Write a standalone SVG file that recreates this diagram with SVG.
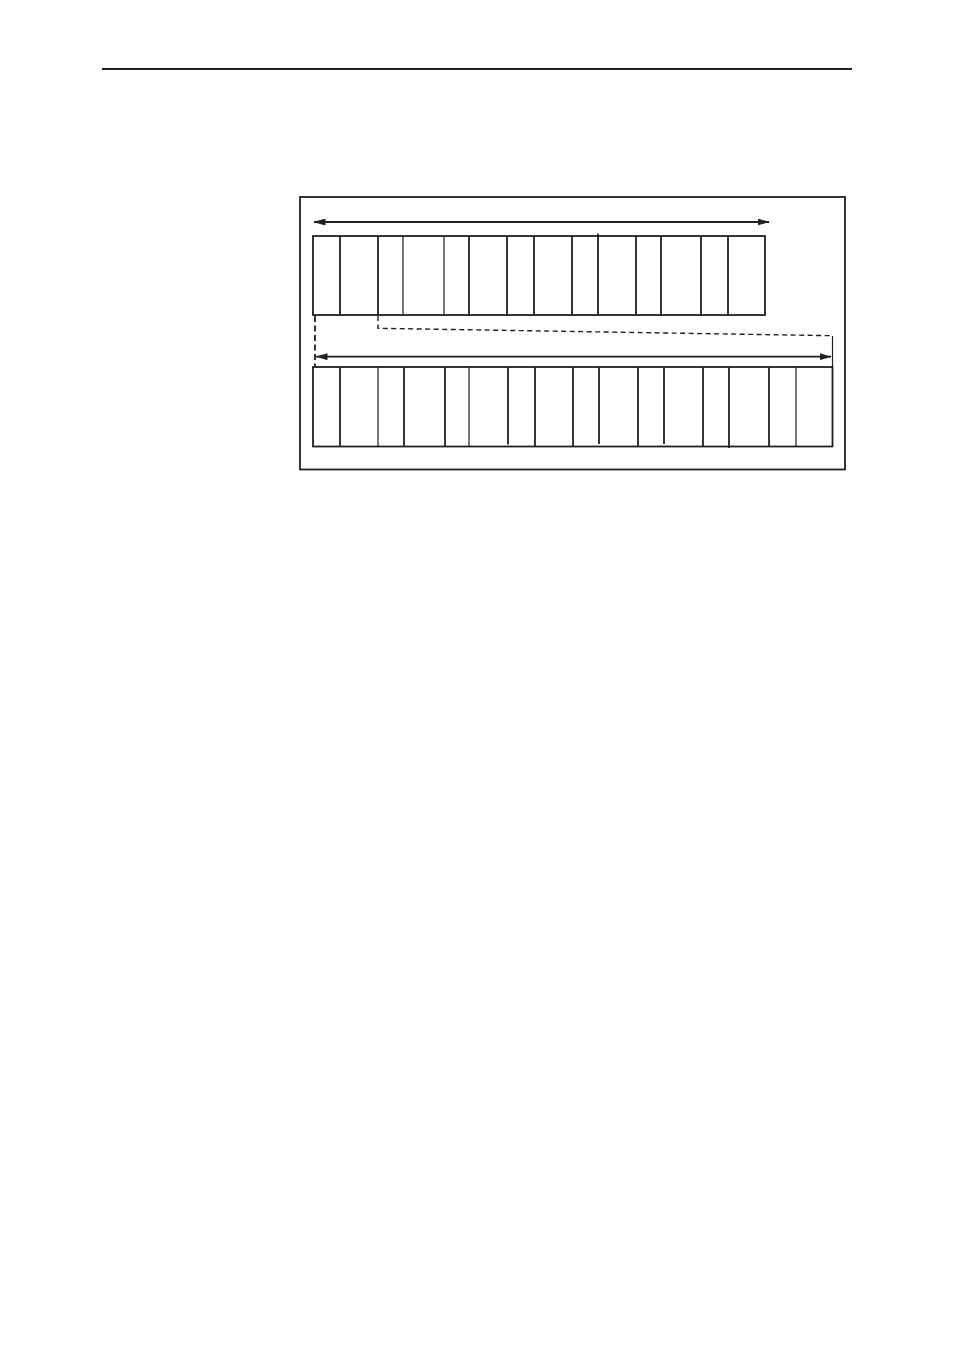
<svg xmlns="http://www.w3.org/2000/svg" width="954" height="1351" viewBox="0 0 954 1351">
<style>
.ln{stroke:#231f20;stroke-width:1.8;fill:none}
.th{stroke:#231f20;stroke-width:1.2;fill:none}
.ds{stroke:#231f20;stroke-width:1.4;fill:none;stroke-dasharray:5,3.5}
.dl{stroke:#231f20;stroke-width:1.8;fill:none;stroke-dasharray:6,3.5}
</style>
<defs>
<marker id="ah" viewBox="0 0 12 7" refX="11.5" refY="3.5" markerWidth="12" markerHeight="7" markerUnits="userSpaceOnUse" orient="auto-start-reverse">
<path d="M0,0 L12,3.5 L0,7 Z" fill="#231f20"/>
</marker>
</defs>
<rect width="954" height="1351" fill="#fff"/>
<line x1="102" y1="69" x2="852" y2="69" stroke="#231f20" stroke-width="2"/>
<g id="frame"><rect class="ln" x="300" y="197" width="545" height="272.5"/></g>
<g id="top-row">
<rect class="ln" x="313" y="236" width="452" height="79"/>
<path class="ln" d="M340,236V315M378,236V315M469,236V315M507,236V315M534,236V315M572,236V315M598,233.5V315M636,236V315M661,236V315M701,237V315M728,236V315"/>
<path class="th" d="M403,236V315M444,236V315"/>
</g>
<g id="bottom-row">
<rect class="ln" x="313" y="367" width="519.5" height="79.5"/>
<path class="ln" d="M340,367V446.5M404,367V446.5M445,367V446.5M508,367V444.5M535,367V446.5M573,367V446.5M599,367V444M638,367V446.5M664,367V444M703,367V446.5M729,367V448M769,367V446.5"/>
<path class="th" d="M378,367V446.5M469,367V446.5M796,367V446.5"/>
</g>
<g id="connectors">
<line class="ln" x1="314" y1="222" x2="769" y2="222" marker-start="url(#ah)" marker-end="url(#ah)"/>
<line class="ln" x1="316" y1="356.7" x2="831" y2="356.7" marker-start="url(#ah)" marker-end="url(#ah)"/>
<path class="dl" d="M315,316V366"/>
<path class="ds" d="M378,316V328.3L832,335.7"/>
<path class="th" d="M832.5,336V367"/>
</g>
</svg>
